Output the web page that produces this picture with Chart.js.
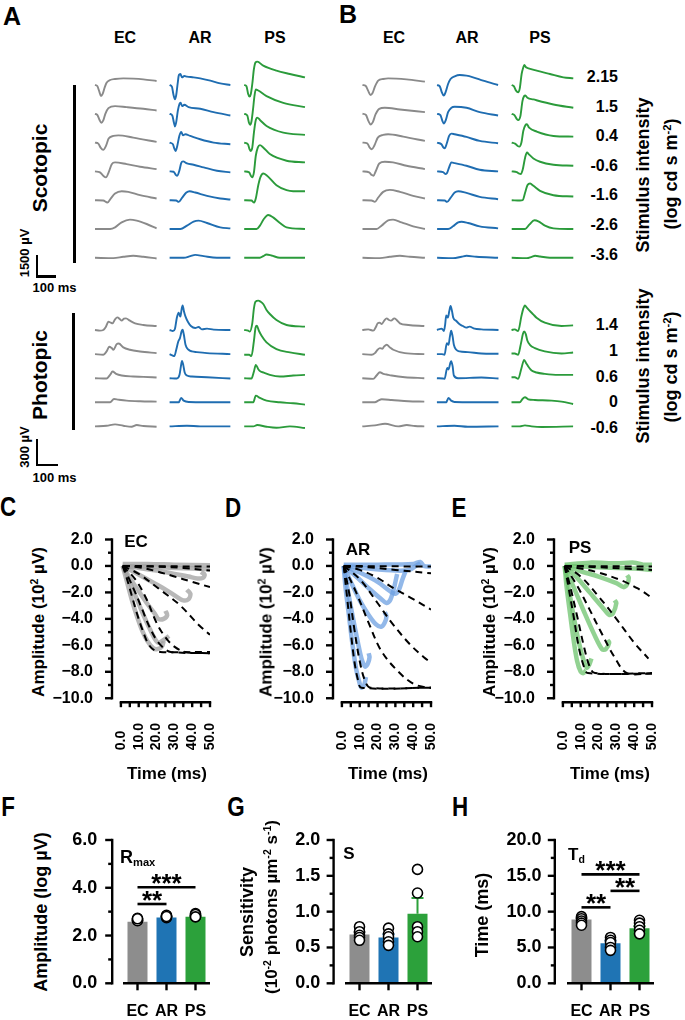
<!DOCTYPE html>
<html>
<head>
<meta charset="utf-8">
<script src="https://cdn.jsdelivr.net/npm/chart.js@4.4.1/dist/chart.umd.min.js"></script>
<style>
  html, body { margin: 0; padding: 0; background: #fff; }
  body { width: 685px; height: 1020px; position: relative; overflow: hidden;
         font-family: "Liberation Sans", Arial, Helvetica, sans-serif; font-weight: bold; color: #000; }
  canvas { position: absolute; }
  .t { position: absolute; white-space: nowrap; line-height: 1; }
  .rule { position: absolute; background: #000; }
  sup, sub { font-size: 0.62em; line-height: 0; position: relative; vertical-align: baseline; }
  sup { top: -0.55em; }
  sub { top: 0.3em; }
</style>
</head>
<body>
<script>
// ---- data ----
const GROUPS = ['EC', 'AR', 'PS'];
const SCOT_LEVELS = ['2.15', '1.5', '0.4', '-0.6', '-1.6', '-2.6', '-3.6'];
const PHOT_LEVELS = ['1.4', '1', '0.6', '0', '-0.6'];

// ERG traces, [time ms, µV], one array per intensity (brightest first)
const aScotEC = [
  [[0,0],[11,-69],[21,-460],[29,-760],[37,-620],[47,-160],[56,160],[73,345],[97,415],[137,460],[185,440],[234,390],[298,275]],
  [[0,0],[11,-69],[21,-390],[31,-620],[40,-460],[50,0],[65,390],[97,530],[153,460],[234,345],[298,230]],
  [[0,0],[16,-69],[27,-345],[40,-500],[53,-230],[66,275],[89,460],[113,500],[185,345],[298,46]],
  [[0,0],[24,-69],[40,-300],[53,-415],[66,-69],[81,500],[97,620],[153,500],[218,320],[298,160]],
  [[0,0],[40,-23],[60,-160],[76,115],[97,460],[129,620],[161,575],[218,345],[298,115]],
  [[0,0],[73,0],[97,115],[129,460],[169,645],[202,575],[250,345],[298,46]],
  [[0,0],[89,-23],[137,69],[185,138],[234,69],[298,-46]]
];
const aScotAR = [
  [[0,0],[11,-115],[19,-690],[26,-990],[32,-690],[39,115],[45,690],[52,760],[60,530],[71,620],[84,575],[116,530],[148,460],[197,300],[245,115],[294,0]],
  [[0,0],[13,-115],[21,-620],[26,-875],[32,-575],[40,230],[48,690],[53,760],[61,530],[71,620],[92,460],[148,345],[213,115],[294,-115]],
  [[0,0],[16,-115],[23,-415],[29,-575],[37,-230],[47,460],[56,735],[65,510],[76,575],[100,460],[148,230],[213,0],[294,-115]],
  [[0,0],[19,-23],[31,-255],[37,-300],[47,46],[56,575],[65,690],[84,550],[116,460],[165,275],[229,46],[294,-69]],
  [[0,0],[32,-23],[44,-115],[60,160],[81,530],[97,620],[124,530],[181,300],[245,115],[294,46]],
  [[0,0],[52,0],[84,230],[116,505],[140,575],[181,415],[245,115],[294,46]],
  [[0,0],[68,0],[100,115],[124,205],[165,115],[229,0],[294,0]]
];
const aScotPS = [
  [[0,0],[11,-92],[19,-620],[26,-805],[32,-620],[39,69],[47,1105],[55,1565],[63,1610],[92,1335],[156,990],[221,760],[294,530]],
  [[0,0],[15,-115],[23,-620],[29,-760],[35,-530],[42,230],[50,1265],[56,1680],[68,1610],[108,1220],[189,760],[294,460]],
  [[0,0],[18,-115],[26,-460],[32,-575],[39,-345],[47,690],[55,1495],[63,1725],[76,1565],[108,1150],[189,690],[294,530]],
  [[0,0],[24,-69],[32,-300],[39,-415],[47,-69],[56,1080],[66,1655],[76,1815],[92,1655],[124,1195],[205,735],[294,620]],
  [[0,0],[35,-23],[48,-160],[56,115],[68,1035],[79,1610],[92,1840],[108,1725],[156,1035],[205,690],[237,620],[294,620]],
  [[0,0],[60,0],[76,230],[95,690],[116,965],[140,805],[173,415],[205,115],[294,0]],
  [[0,0],[76,0],[92,115],[108,230],[132,160],[173,0],[294,0]]
];
const aPhotEC = [
  [[0,0],[24,-8],[40,0],[53,40],[65,100],[76,88],[85,80],[97,128],[108,152],[121,128],[129,112],[140,136],[150,140],[169,112],[194,80],[234,60],[298,48]],
  [[0,0],[40,-8],[56,32],[69,88],[81,72],[89,52],[105,120],[115,128],[137,80],[169,52],[218,32],[298,12]],
  [[0,0],[56,-4],[73,40],[85,80],[102,52],[129,32],[185,20],[234,16],[298,8]],
  [[0,0],[73,0],[92,40],[113,32],[153,20],[218,12],[298,8]],
  [[0,0],[56,8],[97,24],[137,8],[177,-4],[202,16],[234,4],[298,-4]]
];
const aPhotAR = [
  [[0,0],[16,-12],[26,16],[35,148],[44,208],[52,160],[58,248],[63,296],[69,228],[77,160],[89,96],[103,48],[124,24],[140,36],[156,8],[181,16],[213,4],[294,0]],
  [[0,0],[13,-16],[23,-24],[32,52],[42,152],[50,192],[58,272],[63,292],[69,232],[77,112],[92,52],[108,32],[132,24],[181,12],[294,0]],
  [[0,0],[35,-4],[48,40],[55,148],[60,208],[66,160],[73,68],[84,32],[108,20],[181,12],[294,-4]],
  [[0,0],[44,0],[56,52],[68,20],[92,4],[294,0]],
  [[0,0],[84,8],[148,0],[294,0]]
];
const aPhotPS = [
  [[0,0],[19,-8],[27,-20],[39,80],[47,260],[55,340],[68,352],[79,340],[92,312],[108,240],[124,192],[156,120],[205,60],[294,40]],
  [[0,-8],[24,-8],[35,-24],[47,160],[55,320],[61,340],[71,280],[84,220],[108,140],[156,60],[221,20],[294,-8]],
  [[0,0],[35,-4],[47,80],[56,160],[68,108],[79,80],[95,68],[124,40],[173,20],[237,32],[294,40]],
  [[0,0],[44,0],[56,80],[76,52],[108,20],[173,0],[237,-12],[294,-28]],
  [[0,0],[44,0],[63,16],[108,-4],[156,-16],[221,0],[294,-20]]
];
const bScotEC = [
  [[0,0],[16,-69],[27,-390],[39,-690],[48,-575],[60,-115],[76,300],[100,415],[124,460],[213,390],[302,230]],
  [[0,0],[16,-69],[29,-505],[39,-735],[50,-575],[63,-46],[81,345],[108,415],[181,300],[302,115]],
  [[0,0],[23,-46],[35,-345],[45,-460],[58,-185],[74,345],[100,530],[124,575],[197,415],[302,115]],
  [[0,0],[32,-69],[45,-255],[53,-300],[65,46],[81,550],[108,665],[148,620],[213,390],[302,160]],
  [[0,0],[44,-23],[60,-115],[76,185],[100,575],[132,715],[181,575],[245,300],[302,115]],
  [[0,0],[68,0],[92,230],[124,600],[148,645],[189,460],[245,185],[302,0]],
  [[0,0],[84,-23],[132,69],[181,138],[229,69],[302,0]]
];
const bScotAR = [
  [[0,0],[13,-92],[23,-505],[32,-735],[42,-460],[53,69],[65,415],[85,600],[110,690],[142,645],[174,530],[223,300],[295,0]],
  [[0,0],[16,-92],[26,-505],[32,-665],[42,-435],[53,115],[69,415],[85,485],[142,415],[206,115],[295,-115]],
  [[0,0],[21,-115],[31,-345],[37,-390],[47,-46],[58,460],[69,620],[85,575],[142,390],[206,115],[295,-46]],
  [[0,0],[29,-46],[42,-185],[48,-115],[58,275],[69,620],[85,575],[142,390],[206,115],[295,0]],
  [[0,0],[37,-23],[48,-115],[65,160],[85,530],[102,620],[142,505],[206,230],[295,69]],
  [[0,0],[53,0],[77,185],[102,460],[118,505],[150,415],[206,185],[295,46]],
  [[0,0],[77,-23],[118,69],[142,138],[190,69],[295,0]]
];
const bScotPS = [
  [[0,0],[11,-92],[21,-390],[31,-505],[39,-230],[48,760],[56,1220],[61,1380],[69,1220],[81,1150],[121,990],[185,760],[250,530],[298,460]],
  [[0,0],[13,-92],[24,-345],[32,-435],[42,-160],[52,875],[60,1220],[66,1265],[76,1105],[105,990],[202,645],[298,415]],
  [[0,0],[16,-69],[29,-230],[37,-275],[47,0],[56,805],[66,1195],[73,1265],[84,1035],[121,760],[202,460],[298,415]],
  [[0,0],[24,-46],[37,-160],[44,-185],[53,115],[65,965],[74,1310],[82,1195],[105,895],[137,665],[202,460],[298,390]],
  [[0,0],[40,-23],[53,0],[65,530],[76,1035],[89,1150],[105,990],[137,645],[202,345],[298,255]],
  [[0,0],[65,0],[85,300],[110,600],[129,530],[161,230],[202,46],[298,0]],
  [[0,0],[73,-23],[97,69],[113,138],[137,92],[185,0],[298,0]]
];
const bPhotEC = [
  [[0,0],[29,8],[53,-8],[65,32],[74,80],[84,88],[94,72],[106,112],[118,140],[129,120],[139,112],[155,140],[166,120],[182,80],[223,60],[300,48]],
  [[0,0],[45,-8],[61,12],[74,52],[85,72],[97,64],[106,92],[118,112],[134,80],[150,52],[206,12],[300,0]],
  [[0,0],[53,-8],[69,32],[85,72],[102,52],[118,44],[142,32],[206,12],[300,0]],
  [[0,0],[61,0],[77,20],[94,36],[142,28],[223,12],[300,8]],
  [[0,0],[61,12],[110,32],[174,0],[215,16],[255,4],[300,0]]
];
const bPhotAR = [
  [[0,0],[24,16],[34,-12],[40,68],[45,176],[53,148],[60,228],[66,288],[73,228],[79,148],[94,108],[110,68],[126,48],[142,28],[158,40],[182,16],[215,8],[298,0]],
  [[0,0],[24,0],[37,-8],[48,132],[56,112],[63,212],[69,280],[76,212],[82,112],[94,52],[110,32],[150,24],[215,8],[298,4]],
  [[0,0],[29,-4],[37,-8],[50,124],[56,104],[65,184],[69,204],[76,144],[82,32],[102,0],[215,8],[298,-4]],
  [[0,0],[45,0],[56,52],[69,20],[85,4],[298,0]],
  [[0,0],[85,8],[150,-4],[298,0]]
];
const bPhotPS = [
  [[0,0],[16,8],[32,-12],[48,168],[56,248],[65,296],[74,268],[89,228],[105,188],[121,148],[161,88],[242,48],[298,56]],
  [[0,8],[16,8],[32,-8],[45,120],[55,240],[61,272],[69,240],[77,160],[89,112],[113,72],[161,32],[242,8],[298,20]],
  [[0,12],[16,12],[32,-8],[48,120],[61,220],[71,180],[81,140],[97,92],[121,68],[161,52],[226,40],[298,40]],
  [[0,0],[40,0],[53,40],[65,60],[81,36],[113,28],[194,20],[242,8],[298,-20]],
  [[0,0],[40,0],[65,12],[97,0],[145,-8],[298,0]]
];

// leading-edge amplitude (10^2 µV) vs time (ms): recorded traces and model fits
const AMP_TICKS = [-10, -8, -6, -4, -2, 0, 2];
const TIME_TICKS = [0, 10, 20, 30, 40, 50];
const cTraces = [
  [[1,0.15],[15,0.15],[30,0.1],[50,0.05]],
  [[1,0],[15,-0.05],[30,-0.15],[50,-0.25]],
  [[1,0],[10,-0.15],[20,-0.35],[30,-0.6],[38,-0.8],[43,-0.95],[46,-0.9],[47,-0.65],[45,-0.45]],
  [[1,0],[8,-0.5],[16,-1.1],[24,-1.7],[31,-2.3],[35,-2.6],[38,-2.5],[39,-2.1],[37,-1.8]],
  [[1,0],[5,-0.9],[10,-1.9],[15,-2.9],[19,-3.6],[21,-4.0],[24,-4.0],[26,-3.7],[25,-3.4]],
  [[1,0],[4,-0.9],[8,-2.2],[12,-3.5],[16,-4.7],[19,-5.5],[21,-5.8],[24,-5.6],[27,-5.3]],
  [[1,0],[3,-1.0],[6,-2.5],[9,-3.8],[12,-4.9],[15,-5.7],[18,-6.2],[20,-6.3],[23,-6.1],[24,-5.7]]
];
const cFits = [
  [[1,0],[50,-0.05]],
  [[1,0],[20,-0.05],[35,-0.15],[50,-0.35]],
  [[1,0],[10,-0.1],[20,-0.4],[30,-0.8],[40,-1.2],[50,-1.6]],
  [[1,0],[10,-0.6],[22,-1.8],[33,-2.95],[44,-4.5],[50,-5.2]],
  [[1,0],[8,-1.0],[14,-2.4],[20,-4.3],[25,-5.4],[30,-6.1],[36,-6.5],[50,-6.6]],
  [[1,0],[4,-0.8],[8,-2.0],[12,-3.3],[16,-4.6],[20,-5.6],[24,-6.2],[28,-6.5],[50,-6.6]],
  [[1,0],[3,-0.8],[6,-2.2],[9,-3.6],[12,-4.8],[15,-5.8],[18,-6.3],[22,-6.5],[50,-6.5]]
];
const dTraces = [
  [[1,0.1],[20,0.1],[40,0.15],[44,0.3],[46,0],[50,-0.05]],
  [[1,0],[15,-0.2],[30,-0.35],[38,-0.3],[42,0.05],[44,0.2]],
  [[1,0],[10,-0.5],[20,-1.2],[27,-1.9],[30,-2.1],[32,-1.8],[34,-1.0],[36,-0.3]],
  [[1,0],[8,-0.8],[16,-1.8],[22,-2.5],[25,-2.8],[27,-2.6],[29,-1.8],[31,-0.6]],
  [[1,0],[5,-1.2],[10,-2.6],[15,-3.7],[19,-4.4],[22,-4.6],[24,-4.3],[25,-3.8],[24,-3.5]],
  [[1,0],[3,-1.6],[6,-3.8],[9,-5.8],[11,-7.0],[13,-7.6],[14.5,-7.4],[15.5,-6.9],[15,-6.6]],
  [[1,0],[2,-1.6],[4,-3.8],[6,-6.0],[8,-7.8],[10,-8.9],[11,-9.2],[12.5,-9.0],[13.5,-8.4]]
];
const dFits = [
  [[1,0],[50,-0.05]],
  [[1,0],[15,-0.1],[30,-0.3],[50,-0.55]],
  [[1,0],[10,-0.3],[20,-0.9],[28,-1.6],[40,-2.5],[50,-3.3]],
  [[1,0],[10,-1.0],[20,-2.8],[28,-4.3],[38,-5.9],[46,-6.9],[50,-7.3]],
  [[1,0],[8,-2.0],[15,-4.3],[22,-6.4],[31,-7.9],[40,-8.9],[48,-9.2],[50,-9.2]],
  [[1,0],[4,-2.0],[7,-4.8],[10,-7.2],[13,-8.7],[16,-9.2],[50,-9.2]],
  [[1,0],[3,-2.5],[5,-5.0],[7,-7.2],[9,-8.6],[11,-9.2],[50,-9.2]]
];
const eTraces = [
  [[1,0.1],[15,0.25],[30,0.2],[40,0.25],[45,0.1],[50,0.1]],
  [[1,0],[20,-0.1],[40,-0.2],[50,-0.3]],
  [[1,0],[10,-0.4],[20,-0.8],[30,-1.3],[34,-1.6],[36,-1.4],[37,-0.9],[36,-0.7]],
  [[1,0],[8,-0.9],[15,-2.0],[22,-3.1],[26,-3.7],[28,-3.6],[30,-2.8],[29,-2.6]],
  [[1,0],[6,-1.6],[12,-3.5],[18,-5.3],[22,-6.3],[24,-6.3],[26,-5.8],[25,-5.6]],
  [[1,0],[3,-1.5],[6,-3.8],[9,-5.8],[12,-7.3],[13.5,-7.7],[15,-7.4],[16,-7.0]],
  [[1,0],[2,-1.5],[4,-3.6],[6,-5.6],[8,-7.2],[10,-8.0],[11.5,-8.1],[13,-7.9]]
];
const eFits = [
  [[1,0],[50,-0.05]],
  [[1,0],[20,-0.1],[35,-0.2],[50,-0.3]],
  [[1,0],[10,-0.2],[20,-0.5],[33,-1.1],[42,-1.7],[50,-2.4]],
  [[1,0],[10,-0.8],[20,-2.3],[30,-4.0],[40,-5.8],[48,-7.0]],
  [[1,0],[8,-1.5],[15,-3.3],[21,-4.9],[29,-6.9],[36,-8.1],[50,-8.1]],
  [[1,0],[4,-1.5],[8,-3.8],[12,-6.2],[15,-7.6],[18,-8.1],[50,-8.1]],
  [[1,0],[3,-1.5],[6,-3.8],[9,-6.2],[12,-7.7],[14,-8.1],[50,-8.15]]
];

// summary bars
const rmaxMean = [2.58, 2.76, 2.79];
const rmaxSem = [0.03, 0.03, 0.03];
const rmaxDots = [[2.68,2.72,2.65,2.62,2.70],[2.78,2.82,2.75,2.85,2.80],[2.85,2.80,2.92,2.88,2.78]];
const rmaxTicks = [0, 2, 4, 6];
const rmaxSigPairs = [[0, 1], [0, 2]];
const rmaxSigY = [3.32, 4.02];
const rmaxSigText = ['**', '***'];

const sensMean = [0.68, 0.64, 0.97];
const sensSem = [0.03, 0.04, 0.22];
const sensDots = [[0.79,0.72,0.67,0.64,0.60],[0.77,0.69,0.65,0.58,0.53],[1.59,1.26,0.79,0.72,0.65]];
const sensTicks = [0, 0.5, 1, 1.5, 2];

const tdMean = [8.9, 5.6, 7.7];
const tdSem = [0.2, 0.35, 0.3];
const tdDots = [[9.3,9.0,8.7,8.4,8.1],[6.4,6.0,5.7,5.0,4.6],[8.8,8.4,7.9,7.4,6.9]];
const tdTicks = [0, 5, 10, 15, 20];
const tdSigPairs = [[0, 1], [1, 2], [0, 2]];
const tdSigY = [10.6, 12.9, 15.2];
const tdSigText = ['**', '**', '***'];

// ---- styling ----
const FONT = '"Liberation Sans", Arial, Helvetica, sans-serif';
const TRACE_COLORS = ['#8a8a8a', '#1f6db1', '#2b9b3b'];
const LIGHT_COLORS = ['rgba(160,160,160,0.75)', 'rgba(110,160,225,0.75)', 'rgba(110,195,110,0.75)'];
const BAR_COLORS = ['#8d8d8d', '#1f74b4', '#2ca13b'];
const PX_PER_MS = 62 / 300;
const COL_STEP_MS = 361;

// the group labels under the bars are set in a narrow face; use one if installed
function hasFont(name) {
  const ctx = document.createElement('canvas').getContext('2d');
  ctx.font = 'bold 20px monospace';
  const a = ctx.measureText('EC AR PS 0.5').width;
  ctx.font = 'bold 20px "' + name + '", monospace';
  return ctx.measureText('EC AR PS 0.5').width !== a;
}
const NARROW = hasFont('Liberation Sans Narrow');
const CAT_FONT = NARROW
  ? {family: '"Liberation Sans Narrow", ' + FONT, size: 20, weight: 'bold'}
  : {family: FONT, size: 16, weight: 'bold'};

function addCanvas(left, top, w, h) {
  const c = document.createElement('canvas');
  c.width = w; c.height = h;
  c.style.left = left + 'px'; c.style.top = top + 'px';
  c.style.width = w + 'px'; c.style.height = h + 'px';
  document.body.appendChild(c);
  return c;
}

function txt(html, x, y, size, opt = {}) {
  const d = document.createElement('div');
  d.className = 't';
  d.innerHTML = html;
  d.style.left = x + 'px';
  d.style.top = y + 'px';
  d.style.fontSize = size + 'px';
  let tr = opt.align === 'right' ? 'translate(-100%,-50%)' : opt.align === 'left' ? 'translate(0,-50%)' : 'translate(-50%,-50%)';
  if (opt.rot) tr += ' rotate(-90deg)';
  if (opt.sx) tr += ' scaleX(' + opt.sx + ')';
  d.style.transform = tr;
  document.body.appendChild(d);
}

function rule(x, y, w, h) {
  const d = document.createElement('div');
  d.className = 'rule';
  Object.assign(d.style, {left: x + 'px', top: y + 'px', width: w + 'px', height: h + 'px'});
  document.body.appendChild(d);
}

const fmtTick = v => (v < 0 ? '\u2212' : '') + Math.abs(v).toFixed(1);
const quiet = () => ({legend: {display: false}, tooltip: {enabled: false}});

// Prism-style offset axes with minor ticks
const prismAxes = {
  id: 'prismAxes',
  afterDraw(chart, args, o) {
    const {ctx, chartArea: ca} = chart;
    const x = chart.scales.x, y = chart.scales.y;
    const seg = (x1, y1, x2, y2) => { ctx.beginPath(); ctx.moveTo(x1, y1); ctx.lineTo(x2, y2); ctx.stroke(); };
    ctx.save();
    ctx.strokeStyle = '#000';
    ctx.lineWidth = 2.4;
    const ax = ca.left - o.yGap;
    seg(ax, y.getPixelForValue(o.yTo) - 1.2, ax, y.getPixelForValue(o.yFrom) + 1.2);
    for (let v = o.yFrom; v <= o.yTo + 1e-9; v += o.yMinor) {
      const r = v / o.yStep;
      const major = Math.abs(r - Math.round(r)) < 1e-6;
      const py = y.getPixelForValue(v);
      seg(ax - (major ? 7 : 4), py, ax, py);
    }
    const ay = ca.bottom;
    if (o.xCat) {
      seg(ca.left, ay, ca.right, ay);
      x.ticks.forEach((t, i) => { const px = x.getPixelForValue(i); seg(px, ay, px, ay + 7); });
    } else {
      seg(x.getPixelForValue(o.xFrom) - 1.2, ay, x.getPixelForValue(o.xTo) + 1.2, ay);
      for (let v = o.xFrom; v <= o.xTo + 1e-9; v += o.xMinor) {
        const px = x.getPixelForValue(v);
        seg(px, ay, px, ay + 5);
      }
      ctx.fillStyle = '#000';
      ctx.font = 'bold 14px ' + FONT;
      ctx.textAlign = 'left';
      ctx.textBaseline = 'middle';
      o.xLabels.forEach(v => {
        ctx.save();
        ctx.translate(x.getPixelForValue(v), ay + o.xLabelBase);
        ctx.rotate(-Math.PI / 2);
        ctx.fillText(v.toFixed(1), 0, 0);
        ctx.restore();
      });
    }
    ctx.restore();
  }
};

// error bars (under the dots) and significance brackets
const barExtras = {
  id: 'barExtras',
  afterDatasetDraw(chart, args, o) {
    if (args.index !== 0) return;
    const {ctx} = chart, x = chart.scales.x, y = chart.scales.y;
    ctx.save();
    ctx.lineWidth = 2;
    o.sem.forEach((s, i) => {
      const px = x.getPixelForValue(i);
      const base = y.getPixelForValue(o.mean[i]), top = y.getPixelForValue(o.mean[i] + s);
      ctx.strokeStyle = BAR_COLORS[i];
      ctx.beginPath();
      ctx.moveTo(px, base); ctx.lineTo(px, top);
      ctx.moveTo(px - 6, top); ctx.lineTo(px + 6, top);
      ctx.stroke();
    });
    ctx.restore();
  },
  afterDraw(chart, args, o) {
    if (!o.pairs) return;
    const {ctx} = chart, x = chart.scales.x, y = chart.scales.y;
    ctx.save();
    ctx.strokeStyle = '#000';
    ctx.fillStyle = '#000';
    ctx.lineWidth = 2.6;
    ctx.font = 'bold 26px ' + FONT;
    ctx.textAlign = 'center';
    ctx.textBaseline = 'alphabetic';
    o.pairs.forEach(([a, b], k) => {
      const py = y.getPixelForValue(o.ys[k]);
      const x1 = x.getPixelForValue(a), x2 = x.getPixelForValue(b);
      ctx.beginPath(); ctx.moveTo(x1, py); ctx.lineTo(x2, py); ctx.stroke();
      ctx.fillText(o.labels[k], (x1 + x2) / 2, py + 5);
    });
    ctx.restore();
  }
};

// ---- A / B: ERG traces ----
function traceChart(box, x0, base0, uvPerPx, rowGapPx, columns) {
  const [left, top, w, h] = box;
  const rowGap = rowGapPx * uvPerPx;
  const datasets = [];
  columns.forEach((rows, c) => rows.forEach((pts, r) => datasets.push({
    data: pts.map(([t, v]) => ({x: t + c * COL_STEP_MS, y: v - r * rowGap})),
    borderColor: TRACE_COLORS[c], borderWidth: 1.9, pointRadius: 0,
    cubicInterpolationMode: 'monotone', fill: false
  })));
  const xMin = (left - x0) / PX_PER_MS;
  const yMax = (base0 - top) * uvPerPx;
  new Chart(addCanvas(left, top, w, h), {
    type: 'line',
    data: {datasets},
    options: {
      responsive: false, animation: false, events: [],
      layout: {padding: 0},
      plugins: quiet(),
      scales: {
        x: {type: 'linear', display: false, min: xMin, max: xMin + w / PX_PER_MS},
        y: {type: 'linear', display: false, min: yMax - h * uvPerPx, max: yMax}
      }
    }
  });
}

traceChart([90, 50, 225, 225], 95, 85, 69, 28.8, [aScotEC, aScotAR, aScotPS]);
traceChart([90, 295, 225, 145], 95, 330, 12, 24.1, [aPhotEC, aPhotAR, aPhotPS]);
traceChart([357, 50, 225, 225], 362.5, 85, 69, 28.8, [bScotEC, bScotAR, bScotPS]);
traceChart([357, 295, 225, 145], 362.3, 330, 12, 24.1, [bPhotEC, bPhotAR, bPhotPS]);

// ---- C / D / E: amplitude vs time ----
function ampChart(axisX, traces, fits, c) {
  const Y_W = 64, top = 520, h = 270, areaTop = 539.5, areaBottom = 702.2;
  const left = axisX - Y_W, w = 98 + Y_W + 14;
  const toXY = pts => pts.map(([x, y]) => ({x, y}));
  const datasets = traces.map(pts => ({
    data: toXY(pts), borderColor: LIGHT_COLORS[c], borderWidth: 4.5, pointRadius: 0, tension: 0.3, order: 1
  })).concat(fits.map(pts => ({
    data: toXY(pts), borderColor: '#000', borderWidth: 2, borderDash: [7, 5], pointRadius: 0, tension: 0.35, order: 0
  })));
  new Chart(addCanvas(left, top, w, h), {
    type: 'line',
    data: {datasets},
    plugins: [prismAxes],
    options: {
      responsive: false, animation: false, events: [],
      layout: {padding: {left: 0, right: 14, top: areaTop - top, bottom: top + h - areaBottom}},
      plugins: Object.assign(quiet(), {
        prismAxes: {yGap: 0, yFrom: -10, yTo: 2, yStep: 2, yMinor: 1, xFrom: 0, xTo: 50, xMinor: 5, xLabels: TIME_TICKS, xLabelBase: 48}
      }),
      scales: {
        x: {type: 'linear', display: false, min: -5, max: 50},
        y: {
          type: 'linear', min: -10.3, max: 2,
          afterFit: s => { s.width = Y_W; s.paddingTop = 0; s.paddingBottom = 0; },
          afterBuildTicks: s => { s.ticks = AMP_TICKS.map(v => ({value: v})); },
          grid: {display: false, drawTicks: false}, border: {display: false},
          ticks: {padding: 19, color: '#000', font: {family: FONT, size: 16, weight: 'bold'}, callback: fmtTick}
        }
      }
    }
  });
}

ampChart(112, cTraces, cFits, 0);
ampChart(333.3, dTraces, dFits, 1);
ampChart(554.3, eTraces, eFits, 2);

// ---- F / G / H: bars ----
function barChart(area, cfg) {
  const Y_W = 66, top = 815, areaTop = 840, areaBottom = 983.3;
  const left = area[0] - Y_W, w = area[1] - left + 12, h = 1020 - top;
  const X_H = top + h - areaBottom;
  const dots = [];
  cfg.dots.forEach((vals, i) => vals.forEach(v => dots.push({x: GROUPS[i], y: v})));
  new Chart(addCanvas(left, top, w, h), {
    type: 'bar',
    data: {
      labels: GROUPS,
      datasets: [
        {data: cfg.mean, backgroundColor: BAR_COLORS, barPercentage: 0.69, categoryPercentage: 1, order: 1},
        {type: 'line', data: dots, showLine: false, pointRadius: 5, pointBackgroundColor: '#fff',
         pointBorderColor: '#000', pointBorderWidth: 1.6, order: 0}
      ]
    },
    plugins: [prismAxes, barExtras],
    options: {
      responsive: false, animation: false, events: [],
      layout: {padding: {left: 0, right: 12, top: areaTop - top, bottom: 0}},
      plugins: Object.assign(quiet(), {
        prismAxes: {yGap: cfg.yGap, yFrom: 0, yTo: cfg.max, yStep: cfg.step, yMinor: cfg.step / 2, xCat: true},
        barExtras: {mean: cfg.mean, sem: cfg.sem, pairs: cfg.pairs, ys: cfg.sigY, labels: cfg.sigText}
      }),
      scales: {
        x: {
          type: 'category',
          afterFit: s => { s.height = X_H; s.paddingLeft = 0; s.paddingRight = 0; },
          grid: {display: false, drawTicks: false}, border: {display: false},
          ticks: {padding: NARROW ? 17 : 19, autoSkip: false, maxRotation: 0, minRotation: 0, color: '#000', font: CAT_FONT}
        },
        y: {
          type: 'linear', min: 0, max: cfg.max,
          afterFit: s => { s.width = Y_W; s.paddingTop = 0; s.paddingBottom = 0; },
          afterBuildTicks: s => { s.ticks = cfg.ticks.map(v => ({value: v})); },
          grid: {display: false, drawTicks: false}, border: {display: false},
          ticks: {padding: cfg.labelPad, color: '#000', font: {family: FONT, size: 18, weight: 'bold'}, callback: v => v.toFixed(1)}
        }
      }
    }
  });
}

barChart([122.5, 209.5], {
  mean: rmaxMean, sem: rmaxSem, dots: rmaxDots, ticks: rmaxTicks, max: 6, step: 2, yGap: 10.8, labelPad: 25.8,
  pairs: rmaxSigPairs, sigY: rmaxSigY, sigText: rmaxSigText
});
barChart([344.7, 432.3], {
  mean: sensMean, sem: sensSem, dots: sensDots, ticks: sensTicks, max: 2, step: 0.5, yGap: 11.4, labelPad: 24.7
});
barChart([566.5, 653.5], {
  mean: tdMean, sem: tdSem, dots: tdDots, ticks: tdTicks, max: 20, step: 5, yGap: 12.2, labelPad: 25.5,
  pairs: tdSigPairs, sigY: tdSigY, sigText: tdSigText
});

// ---- text and rules ----
txt('A', 12, 16, 25);
txt('B', 348, 14, 25);
[['C', 8, 507], ['D', 233, 508], ['E', 459, 508], ['F', 8, 807], ['G', 236, 807], ['H', 460, 807]]
  .forEach(([s, x, y]) => txt(s, x, y, 28, {sx: 0.8}));

[125, 200, 275].forEach((x, i) => txt(GROUPS[i], x, 38, 16));
[394, 467, 540].forEach((x, i) => txt(GROUPS[i], x, 38, 16));

txt('Scotopic', 39, 168, 21, {rot: true});
txt('Photopic', 39, 375, 21, {rot: true});
rule(72.8, 85, 3, 178);
rule(72.3, 313, 3, 117);

// scale bars
rule(35.5, 255, 2.5, 22.5);
rule(35.5, 275, 20, 2.5);
txt('1500 \u00b5V', 24, 253, 13, {rot: true});
txt('100 ms', 54.5, 287, 13);
rule(35.5, 439, 2.5, 27);
rule(35.5, 463.5, 22.5, 2.5);
txt('300 \u00b5V', 24, 447, 13, {rot: true});
txt('100 ms', 54.5, 477, 13);

SCOT_LEVELS.forEach((s, i) => txt(s, 618, 77 + i * 29.6, 16, {align: 'right'}));
PHOT_LEVELS.forEach((s, i) => txt(s, 618, 325 + i * 25.8, 16, {align: 'right'}));
txt('Stimulus intensity', 643, 175, 18, {rot: true});
txt('(log cd s m<sup>-2</sup>)', 671, 174, 18, {rot: true});
txt('Stimulus intensity', 643, 366, 18, {rot: true});
txt('(log cd s m<sup>-2</sup>)', 671, 367, 18, {rot: true});

// C-E labels
txt('EC', 136, 541, 17);
txt('AR', 358, 549, 17);
txt('PS', 580, 547, 17);
[38, 266, 489].forEach(x => txt('Amplitude (10<sup>2</sup> \u00b5V)', x, 622, 17, {rot: true}));
[167, 388, 610].forEach(x => txt('Time (ms)', x, 773, 17));

// F-H labels
txt('R<sub>max</sub>', 120, 857, 18, {align: 'left'});
txt('S', 349, 853, 17);
txt('T<sub>d</sub>', 568, 854, 17, {align: 'left'});
txt('Amplitude (log \u00b5V)', 41, 912, 18, {rot: true});
txt('Sensitivity', 247, 912, 18, {rot: true});
txt('(10<sup>-2</sup> photons \u00b5m<sup>-2</sup> s<sup>-1</sup>)', 271, 907, 17, {rot: true});
txt('Time (ms)', 482, 915, 18, {rot: true});
</script>
</body>
</html>
